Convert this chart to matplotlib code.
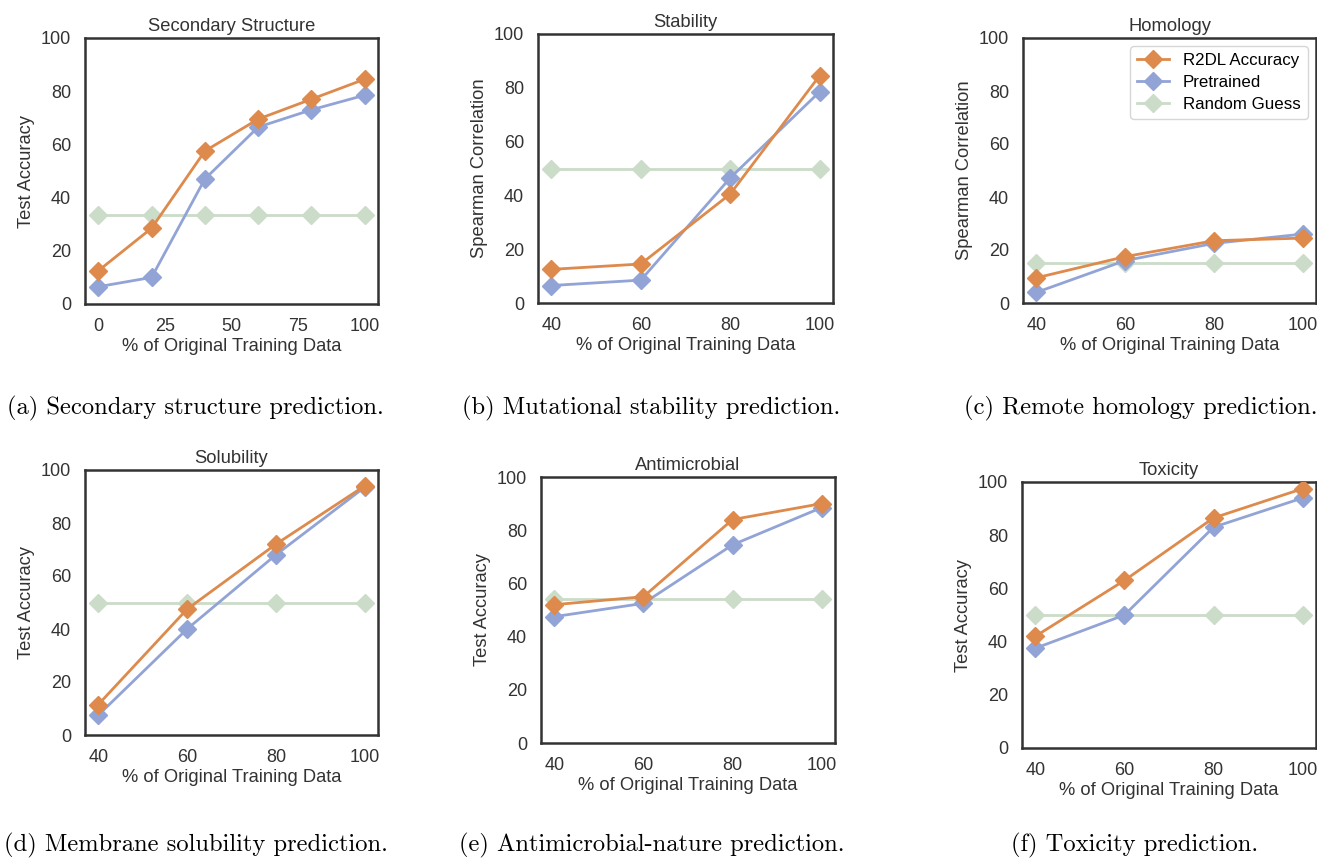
import numpy as np
import matplotlib.pyplot as plt

# ---- data ----
x_ss = [0, 20, 40, 60, 80, 100]
x_std = [40, 60, 80, 100]

titles = ["Secondary Structure", "Stability", "Homology",
          "Solubility", "Antimicrobial", "Toxicity"]
ylabels = ["Test Accuracy", "Spearman Correlation", "Spearman Correlation",
           "Test Accuracy", "Test Accuracy", "Test Accuracy"]
captions = ["(a) Secondary structure prediction.",
            "(b) Mutational stability prediction.",
            "(c) Remote homology prediction.",
            "(d) Membrane solubility prediction.",
            "(e) Antimicrobial-nature prediction.",
            "(f) Toxicity prediction."]

r2dl = [
    [12.5, 28.5, 57.5, 69.5, 77, 84.5],
    [12.5, 14.5, 40.5, 84.5],
    [9.5, 17.5, 23.5, 24.5],
    [11.5, 47.5, 72, 94],
    [52, 55, 84, 90],
    [42, 63, 86.5, 97.5],
]
pretrained = [
    [6.5, 10, 47, 66.5, 73, 78.5],
    [6.5, 8.5, 46.5, 78.5],
    [4, 16, 22.5, 26],
    [7.5, 40, 68, 93.5],
    [47.5, 52.5, 74.5, 88.5],
    [37.5, 50, 83, 94],
]
random_guess = [33.5, 50, 15, 50, 54, 50]

c_r2dl = "#dd8a4c"
c_pre = "#92a3d6"
c_rand = "#cbdcc8"

plt.rcParams['font.family'] = ['Liberation Sans', 'DejaVu Sans']

fig = plt.figure(figsize=(13.17, 8.58), dpi=100)
W, H = 1317, 858

# axes boxes in pixels: left, right, top, bottom
boxes = [
    (85, 378, 38, 304),
    (538, 833, 34, 303),
    (1023, 1316, 38, 303),
    (85, 378, 470, 735),
    (541, 835, 477, 743),
    (1022, 1316, 482, 748),
]
cap_pos = [(195, 408), (651, 408), (1141, 408),
           (196, 845), (652, 845), (1135, 845)]

txt = "#333333"
for i in range(6):
    l, r, t, b = boxes[i]
    ax = fig.add_axes([l / W, 1 - b / H, (r - l) / W, (b - t) / H])
    xs = x_ss if i == 0 else x_std
    ax.plot(xs, r2dl[i], color=c_r2dl, marker='D', markersize=9.5, lw=2,
            label="R2DL Accuracy", zorder=3)
    ax.plot(xs, pretrained[i], color=c_pre, marker='D', markersize=9.5, lw=2,
            label="Pretrained", zorder=2)
    ax.plot(xs, [random_guess[i]] * len(xs), color=c_rand, marker='D',
            markersize=9.5, lw=2, label="Random Guess", zorder=1)
    ax.set_ylim(0, 100)
    ax.set_yticks([0, 20, 40, 60, 80, 100])
    if i == 0:
        ax.set_xticks([0, 25, 50, 75, 100])
    else:
        ax.set_xticks(x_std)
    ax.tick_params(length=0, labelsize=13, colors=txt, pad=10)
    for s in ax.spines.values():
        s.set_color(txt)
        s.set_linewidth(1.8)
    ax.set_title(titles[i], fontsize=13.2, color=txt, pad=5)
    ax.set_ylabel(ylabels[i], fontsize=13.2, color=txt, labelpad=4)
    ax.set_xlabel("% of Original Training Data", fontsize=13.2,
                  color=txt, labelpad=2)
    if i == 2:
        leg = ax.legend(loc="upper right", fontsize=12.2, frameon=True,
                        borderaxespad=0.5, handlelength=1.9,
                        handletextpad=0.8, labelspacing=0.4,
                        bbox_to_anchor=(1, 1))
        leg.get_frame().set_edgecolor("#cccccc")

    cx, cy = cap_pos[i]
    fig.text(cx / W, 1 - cy / H, captions[i], ha="center", va="center",
             fontsize=17.7, family="cmr10")

fig.savefig("out.png", dpi=100)
